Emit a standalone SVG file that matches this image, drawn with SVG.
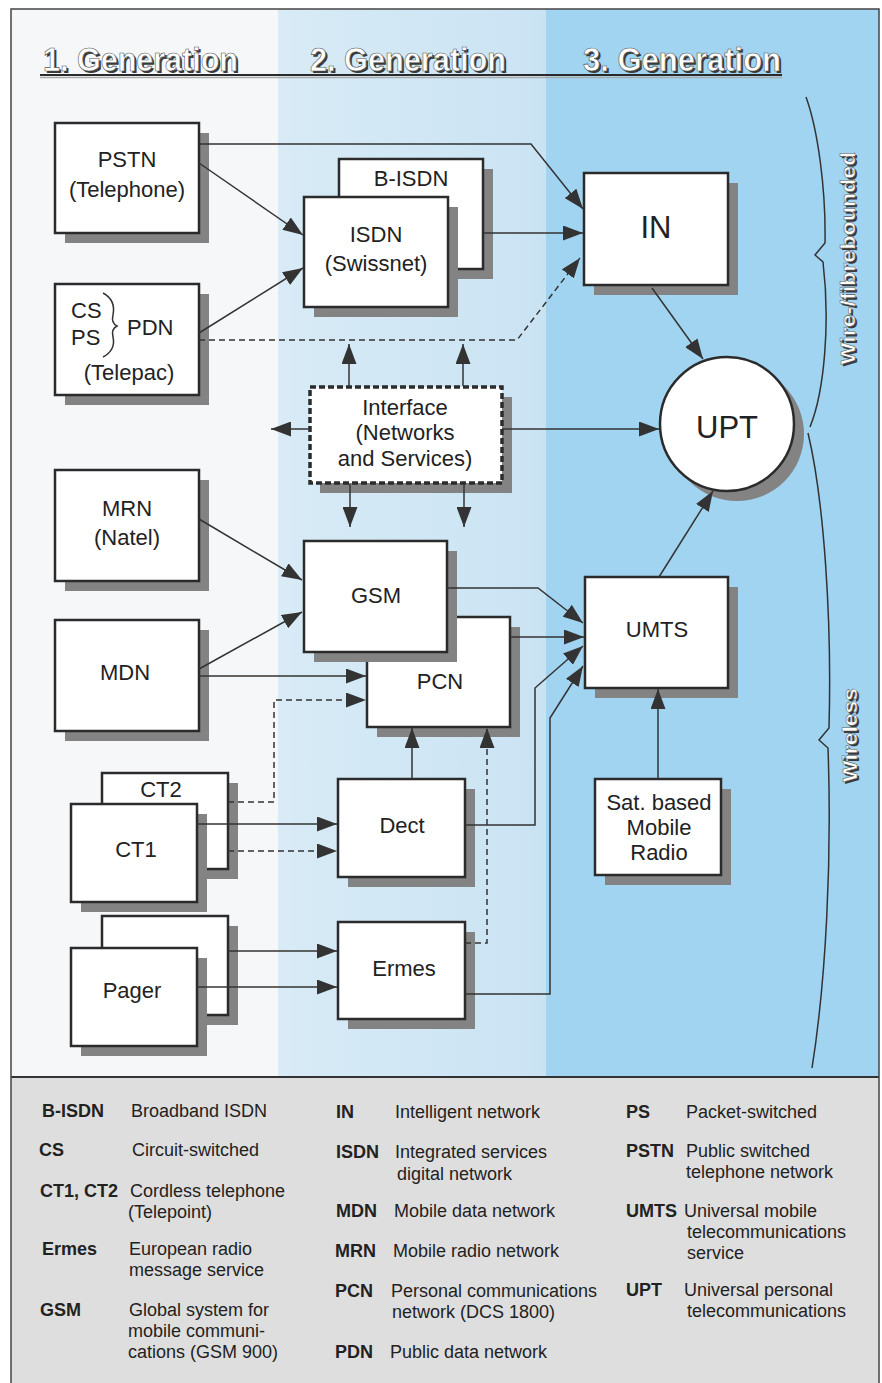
<svg xmlns="http://www.w3.org/2000/svg" width="882" height="1383" viewBox="0 0 882 1383">
<defs>
<linearGradient id="g2" x1="0" y1="0" x2="1" y2="0">
<stop offset="0" stop-color="#d8ebf6"/>
<stop offset="1" stop-color="#cae3f3"/>
</linearGradient>
<marker id="ah" markerUnits="userSpaceOnUse" markerWidth="20" markerHeight="15" refX="20" refY="7.5" orient="auto">
<path d="M0,0 L20,7.5 L0,15 z" fill="#333"/>
</marker>
<style>
.sh{fill:#838383}
.bx{fill:#fff;stroke:#2b2b2b;stroke-width:2.5}
.t{font-family:"Liberation Sans",Arial,sans-serif;font-size:22px;fill:#222;text-anchor:middle}
.tb{font-size:31px}
.c{fill:none;stroke:#333;stroke-width:1.5;marker-end:url(#ah)}
.d{stroke-dasharray:6 4}
.n{fill:none;stroke:#333;stroke-width:1.5}
.hd{font-family:"Liberation Sans",Arial,sans-serif;font-weight:bold;font-size:33px}
.hs{fill:#3a3a3a}
.hw{fill:#fff;stroke:#555;stroke-width:0.6}
.vl{font-family:"Liberation Sans",Arial,sans-serif;font-weight:bold;font-size:21px;text-anchor:middle}
.la{font-family:"Liberation Sans",Arial,sans-serif;font-size:18px;font-weight:bold;fill:#222}
.ld{font-family:"Liberation Sans",Arial,sans-serif;font-size:18px;fill:#222}
</style>
</defs>

<g id="background">
<rect x="11" y="9" width="267" height="1068" fill="#f5f7f8"/>
<rect x="278" y="9" width="268" height="1068" fill="url(#g2)"/>
<rect x="546" y="9" width="333" height="1068" fill="#a1d4f0"/>
<rect x="11" y="1077" width="868" height="306" fill="#dfdede"/>
<line x1="11" y1="1077" x2="879" y2="1077" stroke="#333" stroke-width="2"/>
<rect x="11" y="9" width="868" height="1380" fill="none" stroke="#444" stroke-width="1.5"/>
</g>

<g id="header">
<line x1="40" y1="77.5" x2="782" y2="77.5" stroke="#aaa" stroke-width="1.5"/>
<line x1="40" y1="75" x2="782" y2="75" stroke="#2a2a2a" stroke-width="1.8"/>
<text class="hd hs" x="45" y="73" textLength="195" lengthAdjust="spacingAndGlyphs">1. Generation</text>
<text class="hd hw" x="43" y="71" textLength="195" lengthAdjust="spacingAndGlyphs">1. Generation</text>
<text class="hd hs" x="312" y="73" textLength="196" lengthAdjust="spacingAndGlyphs">2. Generation</text>
<text class="hd hw" x="310" y="71" textLength="196" lengthAdjust="spacingAndGlyphs">2. Generation</text>
<text class="hd hs" x="585" y="73" textLength="198" lengthAdjust="spacingAndGlyphs">3. Generation</text>
<text class="hd hw" x="583" y="71" textLength="198" lengthAdjust="spacingAndGlyphs">3. Generation</text>
</g>

<g id="braces">
<path class="n" d="M806,97 C818,130 826,190 825,243 L815,255 L823,262 C830,320 825,390 810,427"/>
<path class="n" d="M808,433 C824,500 832,620 829,728 L819,740 L828,748 C832,860 826,980 812,1068"/>
<text class="vl" x="857" y="260" fill="#3a3a3a" transform="rotate(-90 857 260)" textLength="213" lengthAdjust="spacingAndGlyphs">Wire-/fibrebounded</text>
<text class="vl" x="855" y="258" fill="#fff" stroke="#555" stroke-width="0.5" transform="rotate(-90 855 258)" textLength="213" lengthAdjust="spacingAndGlyphs">Wire-/fibrebounded</text>
<text class="vl" x="859" y="737" fill="#3a3a3a" transform="rotate(-90 859 737)" textLength="94" lengthAdjust="spacingAndGlyphs">Wireless</text>
<text class="vl" x="857" y="735" fill="#fff" stroke="#555" stroke-width="0.5" transform="rotate(-90 857 735)" textLength="94" lengthAdjust="spacingAndGlyphs">Wireless</text>
</g>

<g id="node-pstn">
<rect class="sh" x="65" y="133" width="144" height="110"/>
<rect class="bx" x="55" y="123" width="144" height="110"/>
<text class="t" x="127" y="167">PSTN</text>
<text class="t" x="127" y="197">(Telephone)</text>
</g>
<g id="node-bisdn">
<rect class="sh" x="349" y="169" width="144" height="110"/>
<rect class="bx" x="339" y="159" width="144" height="110"/>
<text class="t" x="411" y="186">B-ISDN</text>
</g>
<g id="node-isdn">
<rect class="sh" x="314" y="207" width="144" height="110"/>
<rect class="bx" x="304" y="197" width="144" height="110"/>
<text class="t" x="376" y="242">ISDN</text>
<text class="t" x="376" y="271">(Swissnet)</text>
</g>
<g id="node-in">
<rect class="sh" x="594" y="183" width="144" height="112"/>
<rect class="bx" x="584" y="173" width="144" height="112"/>
<text class="t tb" x="656" y="238">IN</text>
</g>
<g id="node-pdn">
<rect class="sh" x="65" y="294" width="144" height="111"/>
<rect class="bx" x="55" y="284" width="144" height="111"/>
<text class="t" x="71" y="318" style="text-anchor:start">CS</text>
<text class="t" x="71" y="345" style="text-anchor:start">PS</text>
<path class="n" d="M103,293 Q116,300 113,315 Q111,323 117,326 Q111,329 113,337 Q116,350 103,357"/>
<text class="t" x="127" y="335" style="text-anchor:start">PDN</text>
<text class="t" x="129" y="380">(Telepac)</text>
</g>
<g id="node-interface">
<rect class="sh" x="320" y="397" width="192" height="96"/>
<rect x="310" y="387" width="192" height="96" fill="#fff" stroke="#2b2b2b" stroke-width="3.5" stroke-dasharray="6 3"/>
<text class="t" x="405" y="415">Interface</text>
<text class="t" x="405" y="440">(Networks</text>
<text class="t" x="405" y="466">and Services)</text>
</g>
<g id="node-upt">
<circle class="sh" cx="737" cy="434" r="67"/>
<circle class="bx" cx="727" cy="424" r="67"/>
<text class="t tb" x="727" y="438">UPT</text>
</g>
<g id="node-mrn">
<rect class="sh" x="65" y="480" width="144" height="111"/>
<rect class="bx" x="55" y="470" width="144" height="111"/>
<text class="t" x="127" y="516">MRN</text>
<text class="t" x="127" y="545">(Natel)</text>
</g>
<g id="node-pcn">
<rect class="sh" x="377" y="627" width="143" height="110"/>
<rect class="bx" x="367" y="617" width="143" height="110"/>
<text class="t" x="440" y="689">PCN</text>
</g>
<g id="node-gsm">
<rect class="sh" x="314" y="551" width="143" height="111"/>
<rect class="bx" x="304" y="541" width="143" height="111"/>
<text class="t" x="376" y="603">GSM</text>
</g>
<g id="node-umts">
<rect class="sh" x="595" y="587" width="143" height="111"/>
<rect class="bx" x="585" y="577" width="143" height="111"/>
<text class="t" x="657" y="637">UMTS</text>
</g>
<g id="node-mdn">
<rect class="sh" x="65" y="630" width="144" height="111"/>
<rect class="bx" x="55" y="620" width="144" height="111"/>
<text class="t" x="125" y="680">MDN</text>
</g>
<g id="node-ct2">
<rect class="sh" x="112" y="783" width="126" height="96"/>
<rect class="bx" x="102" y="773" width="126" height="96"/>
<text class="t" x="161" y="797">CT2</text>
</g>
<g id="node-ct1">
<rect class="sh" x="81" y="814" width="126" height="98"/>
<rect class="bx" x="71" y="804" width="126" height="98"/>
<text class="t" x="136" y="857">CT1</text>
</g>
<g id="node-dect">
<rect class="sh" x="348" y="789" width="127" height="98"/>
<rect class="bx" x="338" y="779" width="127" height="98"/>
<text class="t" x="402" y="833">Dect</text>
</g>
<g id="node-sat">
<rect class="sh" x="605" y="789" width="126" height="96"/>
<rect class="bx" x="595" y="779" width="126" height="96"/>
<text class="t" x="659" y="810">Sat. based</text>
<text class="t" x="659" y="835">Mobile</text>
<text class="t" x="659" y="860">Radio</text>
</g>
<g id="node-pager-back">
<rect class="sh" x="112" y="926" width="126" height="99"/>
<rect class="bx" x="102" y="916" width="126" height="99"/>
</g>
<g id="node-pager">
<rect class="sh" x="81" y="958" width="126" height="98"/>
<rect class="bx" x="71" y="948" width="126" height="98"/>
<text class="t" x="132" y="998">Pager</text>
</g>
<g id="node-ermes">
<rect class="sh" x="348" y="932" width="127" height="97"/>
<rect class="bx" x="338" y="922" width="127" height="97"/>
<text class="t" x="404" y="976">Ermes</text>
</g>

<g id="connectors">
<path class="c" d="M199,144 H531 L583,209"/>
<path class="c" d="M199,163 L303,235"/>
<path class="c" d="M483,233 H583"/>
<path class="c" d="M199,333 L303,268"/>
<path class="c d" d="M199,340 H517 L580,258"/>
<path class="c" d="M349,386 V344"/>
<path class="c" d="M463,386 V344"/>
<path class="c" d="M310,429 H271"/>
<path class="c" d="M502,429 H659"/>
<path class="c" d="M350,484 V527"/>
<path class="c" d="M464,484 V527"/>
<path class="c" d="M652,288 L703,359"/>
<path class="c" d="M659,577 L713,491"/>
<path class="c" d="M199,519 L302,580"/>
<path class="c" d="M199,669 L302,612"/>
<path class="c" d="M199,676 H366"/>
<path class="c d" d="M228,802 H274 V700 H366"/>
<path class="c" d="M447,588 H538 L583,623"/>
<path class="c" d="M510,637 H584"/>
<path class="c" d="M465,825 H535 V688 L583,646"/>
<path class="c" d="M465,994 H550 V718 L583,666"/>
<path class="c" d="M412,779 V728"/>
<path class="c d" d="M465,943 H487 V728"/>
<path class="c" d="M197,824 H337"/>
<path class="c d" d="M228,851 H337"/>
<path class="c" d="M228,951 H337"/>
<path class="c" d="M197,987 H337"/>
<path class="c" d="M658,779 V689"/>
</g>

<g id="legend">
<text class="la" x="42" y="1117">B-ISDN</text><text class="ld" x="131" y="1117">Broadband ISDN</text>
<text class="la" x="39" y="1156">CS</text><text class="ld" x="132" y="1156">Circuit-switched</text>
<text class="la" x="40" y="1197">CT1, CT2</text><text class="ld" x="130" y="1197">Cordless telephone</text>
<text class="ld" x="128" y="1218">(Telepoint)</text>
<text class="la" x="42" y="1255">Ermes</text><text class="ld" x="129" y="1255">European radio</text>
<text class="ld" x="129" y="1276">message service</text>
<text class="la" x="40" y="1316">GSM</text><text class="ld" x="129" y="1316">Global system for</text>
<text class="ld" x="128" y="1337">mobile communi-</text>
<text class="ld" x="128" y="1358">cations (GSM 900)</text>

<text class="la" x="336" y="1118">IN</text><text class="ld" x="395" y="1118">Intelligent network</text>
<text class="la" x="336" y="1158">ISDN</text><text class="ld" x="395" y="1158">Integrated services</text>
<text class="ld" x="397" y="1180">digital network</text>
<text class="la" x="336" y="1217">MDN</text><text class="ld" x="394" y="1217">Mobile data network</text>
<text class="la" x="335" y="1257">MRN</text><text class="ld" x="393" y="1257">Mobile radio network</text>
<text class="la" x="335" y="1297">PCN</text><text class="ld" x="391" y="1297">Personal communications</text>
<text class="ld" x="392" y="1318">network (DCS 1800)</text>
<text class="la" x="335" y="1358">PDN</text><text class="ld" x="390" y="1358">Public data network</text>

<text class="la" x="626" y="1118">PS</text><text class="ld" x="686" y="1118">Packet-switched</text>
<text class="la" x="626" y="1157">PSTN</text><text class="ld" x="686" y="1157">Public switched</text>
<text class="ld" x="686" y="1178">telephone network</text>
<text class="la" x="626" y="1217">UMTS</text><text class="ld" x="684" y="1217">Universal mobile</text>
<text class="ld" x="687" y="1238">telecommunications</text>
<text class="ld" x="687" y="1259">service</text>
<text class="la" x="626" y="1296">UPT</text><text class="ld" x="684" y="1296">Universal personal</text>
<text class="ld" x="687" y="1317">telecommunications</text>
</g>
</svg>
